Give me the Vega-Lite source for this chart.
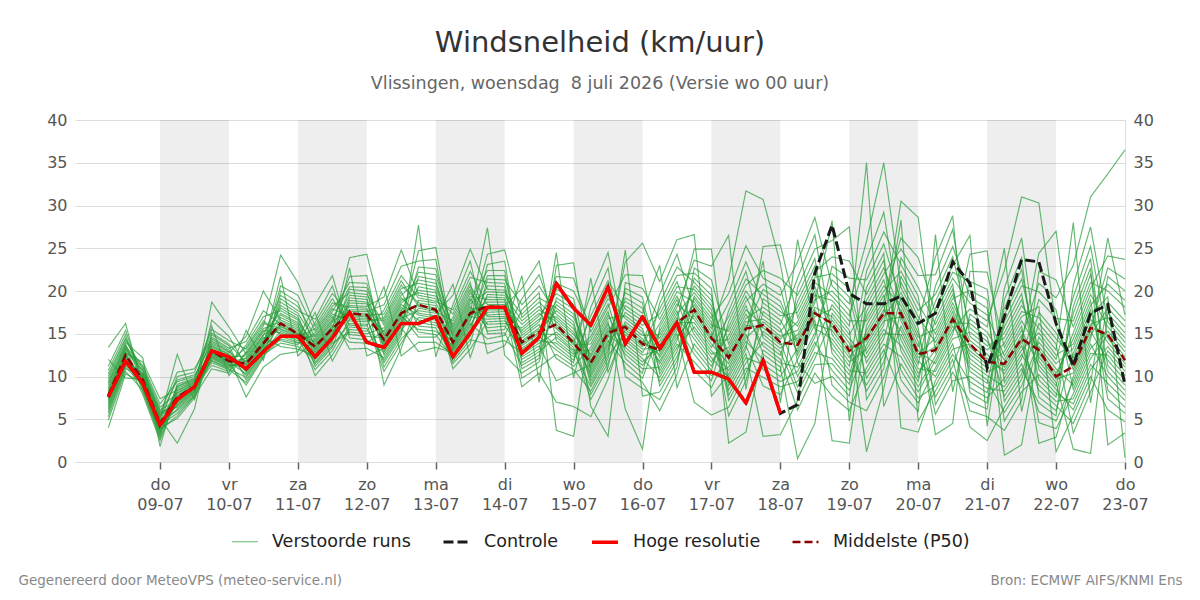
{
  "$schema": "https://vega.github.io/schema/vega-lite/v6.json",
  "width": 1050,
  "height": 342,
  "autosize": "none",
  "padding": {"left": 75, "top": 120, "right": 75, "bottom": 138},
  "background": "#ffffff",
  "config": {
    "font": "DejaVu Sans",
    "view": {"stroke": null},
    "axis": {"labelFont": "DejaVu Sans", "labelFontSize": 16, "labelColor": "#555555", "titleFont": "DejaVu Sans"},
    "legend": {"labelFont": "DejaVu Sans"}
  },
  "title": {
    "text": "Windsnelheid (km/uur)",
    "subtitle": "Vlissingen, woensdag\u00a0 8 juli 2026 (Versie wo 00 uur)",
    "anchor": "middle",
    "frame": "group",
    "font": "DejaVu Sans",
    "fontSize": 29,
    "fontWeight": "normal",
    "color": "#333333",
    "subtitleFont": "DejaVu Sans",
    "subtitleFontSize": 17.5,
    "subtitleColor": "#666666",
    "subtitlePadding": 17,
    "offset": 20
  },
  "datasets": {
    "dagen": [
      {"t": 24, "t2": 48}, {"t": 72, "t2": 96}, {"t": 120, "t2": 144}, {"t": 168, "t2": 192},
      {"t": 216, "t2": 240}, {"t": 264, "t2": 288}, {"t": 312, "t2": 336}
    ],
    "runs": [
      {"t": 6, "reeks": "Verstoorde runs", "v": [4.0,6.6,7.8,9.2,12.0,6.2,7.5,8.7,10.7,5.7,7.2,8.3,10.0,4.9,6.8,8.0,9.4,13.4,6.4,7.7,9.0,11.2,5.9,7.3,8.5,10.3,5.3,7.0,8.1,9.7]},
      {"t": 12, "reeks": "Verstoorde runs", "v": [10.3,11.7,12.6,13.6,9.8,11.4,12.4,13.3,14.9,11.1,12.1,13.0,14.3,10.6,11.9,12.7,13.8,16.2,11.6,12.5,13.5,15.4,11.3,12.3,13.2,14.5,10.9,12.0,12.9,14.0]},
      {"t": 18, "reeks": "Verstoorde runs", "v": [9.3,8.9,9.1,8.2,9.7,10.4,8.6,10.7,9.2,9.0,7.9,10.6,10.9,8.4,9.8,11.7,9.4,8.7,10.0,9.6,11.3,9.5,9.5,9.9,11.1,10.1,10.2,10.3,8.8,12.2]},
      {"t": 24, "reeks": "Verstoorde runs", "v": [4.2,3.7,3.9,2.8,4.7,5.6,3.2,5.9,4.1,3.8,2.5,5.7,6.1,3.0,4.8,7.4,4.3,3.4,5.0,4.6,6.8,4.4,4.5,4.9,6.4,5.1,5.3,5.4,3.5,1.8]},
      {"t": 30, "reeks": "Verstoorde runs", "v": [6.2,8.1,5.1,7.6,10.0,7.0,8.9,6.4,8.3,5.4,7.7,10.5,7.2,9.1,6.6,8.4,5.7,7.8,12.6,7.3,9.4,6.7,8.6,6.0,8.0,2.2,7.5,9.6,6.9,8.8]},
      {"t": 36, "reeks": "Verstoorde runs", "v": [8.1,9.2,7.5,8.9,10.5,8.6,9.7,8.2,9.3,7.7,8.9,10.9,8.7,9.8,8.3,9.4,7.8,9.0,7.3,8.7,10.0,8.4,9.5,7.9,9.1,6.2,8.8,10.2,8.5,9.6]},
      {"t": 42, "reeks": "Verstoorde runs", "v": [14.2,14.6,12.3,13.6,15.5,13.1,11.6,18.7,13.0,10.9,12.7,14.4,12.2,15.1,11.8,15.9,16.6,12.5,13.5,13.8,14.0,12.1,12.8,12.6,12.9,14.9,11.3,12.4,13.3,11.9]},
      {"t": 48, "reeks": "Verstoorde runs", "v": [12.9,13.3,11.3,12.5,14.2,12.0,10.8,15.8,11.9,10.4,11.7,13.1,11.2,13.8,10.9,10.1,14.7,11.5,12.3,12.6,12.8,11.1,11.7,11.6,11.8,13.6,10.6,11.4,12.2,11.0]},
      {"t": 54, "reeks": "Verstoorde runs", "v": [10.6,14.1,11.8,10.1,13.2,11.4,9.3,12.6,10.9,15.4,12.1,10.5,13.7,11.6,9.9,12.9,11.2,9.0,12.4,10.8,14.7,11.9,10.3,13.4,11.5,9.6,12.7,11.1,7.6,12.2]},
      {"t": 60, "reeks": "Verstoorde runs", "v": [13.3,17.7,14.4,12.9,16.2,13.9,12.4,15.4,13.6,11.9,14.8,13.2,17.0,14.2,12.8,15.9,13.8,12.2,15.2,13.5,20.0,14.6,13.1,16.5,14.0,12.6,15.6,13.7,11.1,14.9]},
      {"t": 66, "reeks": "Verstoorde runs", "v": [14.7,16.1,15.5,15.3,15.6,15.8,14.4,15.1,18.3,20.0,19.5,19.1,17.7,18.0,18.7,24.2,17.2,16.9,17.4,20.6,16.6,13.5,16.2,14.9,14.2,13.9,16.4,21.7,12.6,15.9]},
      {"t": 72, "reeks": "Verstoorde runs", "v": [14.0,15.1,14.6,14.5,14.8,14.9,13.9,14.4,17.1,18.7,18.2,17.7,16.6,16.8,17.4,21.0,16.1,15.9,16.3,19.5,15.7,13.2,15.3,14.2,13.7,13.5,15.5,12.4,12.9,15.0]},
      {"t": 78, "reeks": "Verstoorde runs", "v": [12.9,14.0,15.6,10.8,12.6,13.7,15.1,18.4,12.2,13.4,14.6,16.7,11.7,13.1,14.2,15.9,11.2,12.8,13.8,15.3,10.1,12.4,13.5,14.8,17.5,12.0,13.2,14.4,16.3,11.5]},
      {"t": 84, "reeks": "Verstoorde runs", "v": [15.1,16.5,18.6,13.0,14.8,16.0,17.9,21.8,14.3,15.6,17.3,20.6,13.9,15.3,16.7,19.1,13.4,14.9,16.3,18.2,12.5,14.6,15.8,17.6,11.8,14.1,15.5,17.0,19.7,13.6]},
      {"t": 90, "reeks": "Verstoorde runs", "v": [18.6,17.6,18.1,16.7,20.2,14.0,17.1,14.9,18.3,17.8,16.5,14.5,15.2,16.9,20.5,16.0,18.9,17.2,21.7,19.8,15.8,19.2,19.5,21.0,15.5,22.7,23.9,13.2,17.4,16.2]},
      {"t": 96, "reeks": "Verstoorde runs", "v": [18.5,17.6,18.0,16.6,20.0,13.9,17.0,14.7,18.2,17.8,16.4,14.3,15.0,16.8,20.4,15.9,18.7,17.2,21.8,19.6,15.6,19.0,19.3,20.9,15.3,12.4,24.3,13.3,17.4,16.1]},
      {"t": 102, "reeks": "Verstoorde runs", "v": [14.3,18.4,13.5,16.6,12.5,15.4,11.1,14.5,19.3,13.7,16.9,12.8,15.7,11.6,14.7,20.5,13.9,17.3,13.0,16.0,11.9,14.9,9.0,14.1,17.8,13.3,16.3,12.2,15.2,10.6]},
      {"t": 108, "reeks": "Verstoorde runs", "v": [17.6,22.9,16.8,20.3,15.7,18.9,14.4,17.8,24.8,17.0,20.7,16.0,19.2,14.8,18.1,12.4,17.2,21.2,16.3,19.5,15.1,18.4,13.3,17.4,21.8,16.5,19.9,15.4,18.6,13.9]},
      {"t": 114, "reeks": "Verstoorde runs", "v": [22.2,23.5,17.7,20.9,12.9,19.8,16.3,15.2,19.5,15.5,18.6,22.8,17.4,27.7,16.6,14.0,14.6,18.2,20.5,21.3,21.7,17.2,18.9,18.4,19.2,24.7,15.9,18.0,20.1,16.9]},
      {"t": 120, "reeks": "Verstoorde runs", "v": [21.9,23.7,17.4,20.5,13.4,19.4,16.0,14.9,19.1,15.3,18.3,22.6,17.1,12.3,16.3,14.0,14.6,17.8,20.1,20.9,21.3,16.8,18.6,18.0,18.8,25.1,15.7,17.6,19.8,16.6]},
      {"t": 126, "reeks": "Verstoorde runs", "v": [15.5,13.3,19.5,14.7,12.8,17.3,14.0,12.1,16.1,13.6,10.9,15.2,13.1,18.4,14.4,12.6,16.9,13.9,11.8,15.8,13.4,20.8,15.0,13.0,17.8,14.2,12.4,16.5,13.7,11.5]},
      {"t": 132, "reeks": "Verstoorde runs", "v": [19.4,16.5,24.9,18.5,15.7,21.6,17.6,14.7,20.2,17.0,13.2,19.1,16.2,23.5,18.2,15.4,21.0,17.4,14.3,19.8,16.7,12.2,18.8,16.0,22.3,17.9,15.0,20.6,17.2,13.8]},
      {"t": 138, "reeks": "Verstoorde runs", "v": [19.0,21.8,20.2,19.9,20.6,21.0,18.7,19.6,15.3,16.7,16.4,16.1,14.4,15.0,15.7,17.5,12.7,27.4,13.8,17.0,24.3,18.0,22.4,19.3,18.4,18.2,23.1,17.2,17.8,21.4]},
      {"t": 144, "reeks": "Verstoorde runs", "v": [19.0,21.8,20.1,19.8,20.5,20.9,18.7,19.5,15.5,16.8,16.5,16.2,14.8,15.1,15.9,17.6,13.6,12.5,14.2,17.0,24.8,18.0,22.4,19.2,18.4,18.2,23.5,17.3,17.8,21.3]},
      {"t": 150, "reeks": "Verstoorde runs", "v": [10.9,13.1,14.8,17.3,9.8,12.6,14.2,16.5,21.8,12.0,13.8,15.7,19.1,11.3,13.3,15.1,17.8,10.4,12.8,14.5,16.9,8.8,12.3,14.0,16.1,20.3,11.6,13.6,15.4,18.4]},
      {"t": 156, "reeks": "Verstoorde runs", "v": [12.1,14.4,16.4,19.2,11.1,13.9,15.7,18.2,9.3,13.2,15.2,17.4,21.9,12.5,14.7,16.7,19.8,11.7,14.2,16.1,18.7,10.4,13.6,15.5,17.8,23.5,12.9,15.0,17.1,20.6]},
      {"t": 162, "reeks": "Verstoorde runs", "v": [24.5,20.2,21.7,18.0,12.6,15.2,18.8,15.8,23.0,20.9,17.7,15.6,16.1,18.4,13.1,17.0,3.7,19.2,13.9,12.1,16.7,7.0,9.5,13.5,16.4,14.2,14.6,14.9,19.7,17.3]},
      {"t": 168, "reeks": "Verstoorde runs", "v": [9.8,19.1,21.5,16.4,11.2,13.4,17.3,13.9,23.3,20.0,16.0,13.7,14.2,16.9,11.6,15.2,3.0,17.9,12.3,10.8,14.9,6.5,10.4,11.9,14.5,12.6,12.9,13.1,18.4,15.6]},
      {"t": 174, "reeks": "Verstoorde runs", "v": [18.1,10.5,15.2,9.1,13.4,7.3,11.9,19.6,10.8,15.8,9.5,13.8,7.9,12.3,21.5,11.1,16.4,9.9,14.3,8.3,12.6,5.3,11.4,17.1,10.2,14.7,8.8,13.0,6.5,11.6]},
      {"t": 180, "reeks": "Verstoorde runs", "v": [22.7,14.2,19.1,12.9,17.2,11.1,15.7,24.5,14.6,19.6,13.2,17.6,11.6,16.1,10.5,14.8,20.3,13.6,18.1,12.1,16.4,9.7,15.1,21.2,13.9,18.5,12.5,16.8,3.0,15.4]},
      {"t": 186, "reeks": "Verstoorde runs", "v": [10.0,11.6,16.8,23.4,13.0,20.3,15.2,14.2,19.8,14.5,18.3,10.9,16.4,12.6,15.5,13.4,13.8,17.5,21.9,24.8,6.2,16.1,18.8,17.9,19.2,12.1,14.9,17.1,21.0,15.8]},
      {"t": 192, "reeks": "Verstoorde runs", "v": [8.6,9.8,15.2,25.6,11.3,19.3,13.5,12.5,18.6,12.8,16.9,9.3,14.8,10.9,13.8,11.7,12.1,16.0,21.8,7.7,1.5,14.4,17.4,16.5,18.0,10.4,13.2,15.6,20.3,14.1]},
      {"t": 198, "reeks": "Verstoorde runs", "v": [7.3,15.3,11.5,21.1,14.1,10.3,17.9,13.1,8.9,16.2,12.2,6.0,14.9,11.1,19.6,13.7,9.9,17.3,12.8,8.2,15.8,11.8,23.0,14.5,10.7,18.6,13.4,9.4,16.7,12.5]},
      {"t": 204, "reeks": "Verstoorde runs", "v": [11.1,19.0,15.0,26.0,17.7,13.8,21.8,16.6,12.3,19.9,15.7,10.2,18.5,14.6,24.3,17.3,13.4,21.1,16.3,11.8,19.4,15.3,8.7,18.1,14.2,22.8,16.9,12.9,20.5,16.0]},
      {"t": 210, "reeks": "Verstoorde runs", "v": [22.7,13.2,7.0,26.6,10.7,11.7,22.1,24.9,17.5,18.7,18.4,18.1,16.7,17.1,17.8,19.8,15.8,15.4,16.3,19.1,14.9,20.6,13.8,23.6,21.5,21.0,14.4,19.4,20.2,12.6]},
      {"t": 216, "reeks": "Verstoorde runs", "v": [21.3,10.7,5.5,7.7,8.7,9.5,20.3,24.9,14.5,16.0,15.6,15.2,13.8,14.2,14.8,17.3,13.0,12.6,13.4,16.4,12.2,18.3,11.2,22.9,19.5,18.9,11.7,16.8,17.8,10.1]},
      {"t": 222, "reeks": "Verstoorde runs", "v": [13.8,17.7,6.4,10.3,13.0,16.4,2.2,9.4,12.2,15.3,21.4,8.4,11.5,14.3,18.6,7.2,10.7,13.4,17.0,5.4,9.9,12.6,15.8,26.5,8.9,11.9,14.8,19.7,7.8,11.1]},
      {"t": 228, "reeks": "Verstoorde runs", "v": [17.8,22.3,10.4,14.1,16.8,20.7,3.5,13.2,16.0,19.4,31.7,12.2,15.3,18.3,23.4,11.0,14.5,17.3,21.4,9.5,13.6,16.4,20.0,8.5,12.7,15.6,18.8,25.3,11.6,14.9]},
      {"t": 234, "reeks": "Verstoorde runs", "v": [16.0,14.5,15.3,12.0,18.1,22.4,13.1,25.2,15.7,14.9,30.7,11.4,23.5,12.6,18.6,9.9,16.4,13.6,19.6,17.6,8.9,16.7,17.2,19.1,3.0,20.2,20.8,21.5,14.0,10.8]},
      {"t": 240, "reeks": "Verstoorde runs", "v": [14.4,12.9,13.7,10.6,16.6,21.5,11.6,25.4,14.0,13.3,23.2,10.0,6.9,11.1,17.1,8.8,14.7,12.0,18.2,16.1,7.9,15.2,15.6,17.6,3.2,18.8,19.5,20.4,12.5,9.4]},
      {"t": 246, "reeks": "Verstoorde runs", "v": [16.4,8.1,14.5,26.0,12.9,19.5,11.1,16.9,8.8,14.9,11.6,13.3,20.4,0.4,17.5,9.4,15.4,6.1,13.7,21.5,12.0,18.1,10.0,15.9,7.2,14.1,23.4,12.5,18.8,10.6]},
      {"t": 252, "reeks": "Verstoorde runs", "v": [20.5,12.1,18.6,15.6,17.0,23.8,15.1,21.0,12.8,19.0,9.2,17.4,24.9,4.5,21.6,13.5,19.5,10.4,17.8,26.6,16.1,22.2,14.0,20.0,11.4,18.1,28.6,16.6,22.9,14.6]},
      {"t": 258, "reeks": "Verstoorde runs", "v": [15.8,16.6,28.2,14.4,17.9,12.7,21.3,19.4,12.1,20.0,10.0,16.2,25.9,17.4,22.0,18.4,18.9,7.7,13.9,14.9,15.4,24.0,10.7,9.0,11.5,17.0,20.6,2.5,13.3,22.9]},
      {"t": 264, "reeks": "Verstoorde runs", "v": [13.0,13.9,4.8,11.7,15.4,10.2,19.3,17.1,9.6,17.8,7.7,13.4,27.5,14.9,20.3,15.9,16.5,6.0,11.2,12.2,12.6,23.5,8.4,7.0,9.1,14.4,18.5,2.2,10.7,21.5]},
      {"t": 270, "reeks": "Verstoorde runs", "v": [14.5,8.3,18.9,13.2,1.2,17.0,11.6,23.7,15.4,9.8,20.4,14.1,7.3,18.3,12.7,35.0,16.5,11.0,22.3,14.9,9.0,19.6,13.7,6.0,17.6,12.2,25.8,16.0,10.4,21.3]},
      {"t": 276, "reeks": "Verstoorde runs", "v": [17.8,11.7,22.7,16.5,8.6,20.6,15.0,29.2,18.9,13.1,24.4,17.4,10.9,22.0,16.0,6.5,20.0,14.4,26.9,18.4,12.5,23.6,17.0,9.9,21.3,15.5,35.0,19.5,13.8,25.5]},
      {"t": 282, "reeks": "Verstoorde runs", "v": [15.4,19.3,17.4,17.0,17.8,18.3,14.9,16.5,26.2,8.2,4.0,30.5,23.9,24.9,28.3,11.5,22.3,21.7,23.1,9.6,21.0,13.0,19.8,15.9,14.3,13.6,20.4,10.7,12.3,18.8]},
      {"t": 288, "reeks": "Verstoorde runs", "v": [11.4,15.1,13.0,12.6,13.5,14.1,10.9,12.2,23.9,5.9,3.5,28.6,20.4,21.8,4.8,8.2,18.5,17.7,19.4,6.9,17.0,9.4,15.7,11.8,10.4,9.9,16.4,7.5,8.8,14.6]},
      {"t": 294, "reeks": "Verstoorde runs", "v": [20.6,7.6,11.5,14.5,18.8,5.6,10.6,13.5,17.4,26.6,9.5,12.8,16.1,21.9,8.3,11.9,15.0,19.6,6.7,11.0,14.0,18.0,3.2,10.0,13.1,16.7,24.0,8.9,12.4,15.5]},
      {"t": 300, "reeks": "Verstoorde runs", "v": [25.2,11.2,15.4,18.6,23.0,9.5,14.4,17.6,21.5,8.2,13.2,16.7,20.2,27.2,12.0,15.9,19.1,24.0,10.5,14.9,18.1,22.2,4.5,13.8,17.1,20.8,28.8,12.6,16.3,19.6]},
      {"t": 306, "reeks": "Verstoorde runs", "v": [19.3,16.7,17.9,14.2,26.5,10.0,15.2,11.1,18.6,17.3,13.8,10.6,11.6,14.7,4.1,13.0,20.1,15.7,7.1,24.3,12.6,21.1,22.3,6.0,12.1,8.1,8.7,9.4,16.2,13.4]},
      {"t": 312, "reeks": "Verstoorde runs", "v": [18.0,15.2,16.5,12.6,4.2,8.6,13.6,9.6,17.2,15.8,12.1,9.2,10.1,13.1,2.5,11.4,19.0,14.1,6.2,24.7,11.0,20.2,22.2,5.3,10.5,6.9,7.5,8.1,14.6,11.7]},
      {"t": 318, "reeks": "Verstoorde runs", "v": [4.8,11.9,22.4,10.3,17.2,8.3,14.5,5.8,12.4,25.0,10.7,18.0,8.8,15.1,6.4,12.9,0.8,11.1,19.0,9.3,15.8,7.1,13.4,3.7,11.5,20.3,9.8,16.4,7.7,13.9]},
      {"t": 324, "reeks": "Verstoorde runs", "v": [8.2,15.4,31.0,13.6,21.4,11.5,18.3,8.9,15.9,5.9,14.0,22.5,12.1,19.0,9.7,16.5,2.0,14.4,23.9,12.6,19.7,10.3,17.0,7.2,14.8,26.2,13.1,20.6,10.9,17.6]},
      {"t": 330, "reeks": "Verstoorde runs", "v": [10.2,11.3,30.3,8.4,12.7,5.9,15.6,14.0,4.6,14.6,24.4,10.8,19.0,12.3,16.2,13.1,13.5,20.9,7.6,9.0,9.6,17.5,18.2,22.3,2.2,11.8,15.1,19.9,6.9,16.9]},
      {"t": 336, "reeks": "Verstoorde runs", "v": [8.0,8.9,15.9,6.6,10.0,4.8,13.1,11.5,3.9,12.0,27.0,8.5,16.8,9.7,13.8,10.4,10.9,19.2,6.0,7.1,7.6,15.1,1.2,21.3,2.9,9.3,12.5,17.8,5.4,14.4]},
      {"t": 342, "reeks": "Verstoorde runs", "v": [6.8,17.4,10.8,4.5,15.1,9.5,28.0,13.3,8.0,19.3,11.6,6.1,16.5,10.4,3.4,14.4,9.0,23.0,12.7,7.4,18.2,11.2,5.5,15.8,10.0,1.5,13.8,8.5,20.7,12.2]},
      {"t": 348, "reeks": "Verstoorde runs", "v": [11.4,22.7,15.7,9.2,20.3,14.3,6.9,18.3,12.7,25.2,16.7,10.8,21.9,15.3,8.2,19.6,13.8,31.0,17.8,12.1,23.8,16.1,10.0,21.0,14.8,1.0,18.9,13.3,27.5,17.2]},
      {"t": 354, "reeks": "Verstoorde runs", "v": [9.2,2.0,22.7,21.7,24.1,26.2,18.7,20.8,12.5,14.5,14.0,13.5,11.3,11.9,13.0,15.8,10.0,33.7,10.6,14.9,8.4,16.9,6.1,20.0,18.0,17.4,7.4,15.3,16.4,19.3]},
      {"t": 360, "reeks": "Verstoorde runs", "v": [7.2,3.4,21.4,20.0,23.7,17.2,16.5,18.9,10.1,11.9,11.5,11.1,9.0,9.6,10.6,13.4,7.8,36.5,8.4,12.3,6.4,14.5,4.7,18.1,15.8,15.1,5.7,12.9,14.0,0.5]}
    ],
    "lijnen": [
      {"t": 6, "Controle": 7.6, "Hoge resolutie": 7.6, "Middelste (P50)": 7.8},
      {"t": 12, "Controle": 11.8, "Hoge resolutie": 11.8, "Middelste (P50)": 12.5},
      {"t": 18, "Controle": 9.2, "Hoge resolutie": 9.2, "Middelste (P50)": 9.6},
      {"t": 24, "Controle": 4.3, "Hoge resolutie": 4.3, "Middelste (P50)": 4.5},
      {"t": 30, "Controle": 7.3, "Hoge resolutie": 7.3, "Middelste (P50)": 7.6},
      {"t": 36, "Controle": 8.8, "Hoge resolutie": 8.8, "Middelste (P50)": 8.8},
      {"t": 42, "Controle": 13.0, "Hoge resolutie": 13.0, "Middelste (P50)": 13.0},
      {"t": 48, "Controle": 12.3, "Hoge resolutie": 12.3, "Middelste (P50)": 11.8},
      {"t": 54, "Controle": 10.9, "Hoge resolutie": 10.9, "Middelste (P50)": 11.5},
      {"t": 60, "Controle": 12.9, "Hoge resolutie": 12.9, "Middelste (P50)": 13.9},
      {"t": 66, "Controle": 14.7, "Hoge resolutie": 14.7, "Middelste (P50)": 16.2},
      {"t": 72, "Controle": 14.7, "Hoge resolutie": 14.7, "Middelste (P50)": 15.0},
      {"t": 78, "Controle": 12.3, "Hoge resolutie": 12.3, "Middelste (P50)": 13.5},
      {"t": 84, "Controle": 14.5, "Hoge resolutie": 14.5, "Middelste (P50)": 15.6},
      {"t": 90, "Controle": 17.5, "Hoge resolutie": 17.5, "Middelste (P50)": 17.4},
      {"t": 96, "Controle": 14.0, "Hoge resolutie": 14.0, "Middelste (P50)": 17.2},
      {"t": 102, "Controle": 13.4, "Hoge resolutie": 13.4, "Middelste (P50)": 14.3},
      {"t": 108, "Controle": 16.2, "Hoge resolutie": 16.2, "Middelste (P50)": 17.4},
      {"t": 114, "Controle": 16.2, "Hoge resolutie": 16.2, "Middelste (P50)": 18.4},
      {"t": 120, "Controle": 17.0, "Hoge resolutie": 17.0, "Middelste (P50)": 17.8},
      {"t": 126, "Controle": 12.3, "Hoge resolutie": 12.3, "Middelste (P50)": 14.0},
      {"t": 132, "Controle": 15.1, "Hoge resolutie": 15.1, "Middelste (P50)": 17.4},
      {"t": 138, "Controle": 18.1, "Hoge resolutie": 18.1, "Middelste (P50)": 18.2},
      {"t": 144, "Controle": 18.1, "Hoge resolutie": 18.1, "Middelste (P50)": 18.0},
      {"t": 150, "Controle": 12.7, "Hoge resolutie": 12.7, "Middelste (P50)": 14.0},
      {"t": 156, "Controle": 14.6, "Hoge resolutie": 14.6, "Middelste (P50)": 15.2},
      {"t": 162, "Controle": 20.9, "Hoge resolutie": 20.9, "Middelste (P50)": 16.1},
      {"t": 168, "Controle": 18.0, "Hoge resolutie": 18.0, "Middelste (P50)": 13.9},
      {"t": 174, "Controle": 16.0, "Hoge resolutie": 16.0, "Middelste (P50)": 11.6},
      {"t": 180, "Controle": 20.5, "Hoge resolutie": 20.5, "Middelste (P50)": 15.1},
      {"t": 186, "Controle": 13.8, "Hoge resolutie": 13.8, "Middelste (P50)": 15.8},
      {"t": 192, "Controle": 17.0, "Hoge resolutie": 17.0, "Middelste (P50)": 13.8},
      {"t": 198, "Controle": 13.3, "Hoge resolutie": 13.3, "Middelste (P50)": 13.1},
      {"t": 204, "Controle": 16.3, "Hoge resolutie": 16.3, "Middelste (P50)": 16.3},
      {"t": 210, "Controle": 10.5, "Hoge resolutie": 10.5, "Middelste (P50)": 17.8},
      {"t": 216, "Controle": 10.5, "Hoge resolutie": 10.5, "Middelste (P50)": 14.5},
      {"t": 222, "Controle": 9.7, "Hoge resolutie": 9.7, "Middelste (P50)": 12.2},
      {"t": 228, "Controle": 6.9, "Hoge resolutie": 6.9, "Middelste (P50)": 15.6},
      {"t": 234, "Controle": 11.9, "Hoge resolutie": 11.9, "Middelste (P50)": 16.0},
      {"t": 240, "Controle": 5.7, "Hoge resolutie": 5.7, "Middelste (P50)": 14.0},
      {"t": 246, "Controle": 6.7, "Middelste (P50)": 13.7},
      {"t": 252, "Controle": 22.1, "Middelste (P50)": 17.4},
      {"t": 258, "Controle": 27.7, "Middelste (P50)": 16.2},
      {"t": 264, "Controle": 19.7, "Middelste (P50)": 13.0},
      {"t": 270, "Controle": 18.5, "Middelste (P50)": 14.5},
      {"t": 276, "Controle": 18.5, "Middelste (P50)": 17.4},
      {"t": 282, "Controle": 19.4, "Middelste (P50)": 17.4},
      {"t": 288, "Controle": 16.2, "Middelste (P50)": 12.6},
      {"t": 294, "Controle": 17.4, "Middelste (P50)": 13.1},
      {"t": 300, "Controle": 23.4, "Middelste (P50)": 16.7},
      {"t": 306, "Controle": 20.9, "Middelste (P50)": 13.8},
      {"t": 312, "Controle": 11.0, "Middelste (P50)": 11.7},
      {"t": 318, "Controle": 17.0, "Middelste (P50)": 11.5},
      {"t": 324, "Controle": 23.7, "Middelste (P50)": 14.4},
      {"t": 330, "Controle": 23.4, "Middelste (P50)": 13.1},
      {"t": 336, "Controle": 16.2, "Middelste (P50)": 10.0},
      {"t": 342, "Controle": 11.3, "Middelste (P50)": 11.2},
      {"t": 348, "Controle": 17.4, "Middelste (P50)": 15.7},
      {"t": 354, "Controle": 18.4, "Middelste (P50)": 14.9},
      {"t": 360, "Controle": 9.0, "Middelste (P50)": 11.9}
    ]
  },
  "encoding": {
    "x": {
      "field": "t",
      "type": "quantitative",
      "scale": {"domain": [-5.6, 360], "nice": false, "zero": false},
      "axis": {
        "values": [24, 48, 72, 96, 120, 144, 168, 192, 216, 240, 264, 288, 312, 336, 360],
        "title": null,
        "grid": false,
        "domain": false,
        "ticks": true,
        "tickColor": "#666666",
        "tickSize": 7,
        "tickWidth": 1.5,
        "labelPadding": 7,
        "labelLineHeight": 20,
        "labelFlush": false,
        "labelOverlap": false,
        "labelBaseline": "top",
        "labelExpr": "[['zo','ma','di','wo','do','vr','za'][(datum.value / 24 + 3) % 7], (datum.value / 24 + 8 < 10 ? '0' : '') + (datum.value / 24 + 8) + '-07']"
      }
    }
  },
  "layer": [
    {
      "data": {"name": "dagen"},
      "mark": {"type": "rect", "color": "#000000", "opacity": 0.067},
      "encoding": {"x2": {"field": "t2"}}
    },
    {
      "data": {"name": "runs"},
      "transform": [
        {"flatten": ["v"]},
        {"window": [{"op": "row_number", "as": "lid"}], "groupby": ["t"]}
      ],
      "mark": {"type": "line", "strokeCap": "butt"},
      "encoding": {
        "y": {
          "field": "v",
          "type": "quantitative",
          "scale": {"domain": [0, 40], "nice": false},
          "axis": {
            "orient": "left",
            "values": [0, 5, 10, 15, 20, 25, 30, 35, 40],
            "grid": true,
            "gridColor": "#dddddd",
            "gridWidth": 1,
            "domain": false,
            "ticks": false,
            "labelPadding": 8,
            "title": "Gegenereerd door MeteoVPS (meteo-service.nl)",
            "titleAngle": 0,
            "titleAlign": "left",
            "titleBaseline": "alphabetic",
            "titleX": -57,
            "titleY": 464,
            "titleFontSize": 13.5,
            "titleFontWeight": "normal",
            "titleColor": "#888888"
          }
        },
        "detail": {"field": "lid", "type": "nominal"},
        "color": {
          "field": "reeks",
          "type": "nominal",
          "scale": {"domain": ["Verstoorde runs", "Controle", "Hoge resolutie", "Middelste (P50)"], "range": ["#2a9d3a", "#1a1a1a", "#ff0000", "#8b0000"]},
          "legend": {
            "title": null,
            "orient": "none",
            "legendX": 156,
            "legendY": 407,
            "direction": "horizontal",
            "symbolType": "stroke",
            "symbolSize": 676,
            "labelFontSize": 17.5,
            "labelColor": "#222222",
            "labelOffset": 13,
            "columnPadding": 26,
            "padding": 0
          }
        },
        "strokeDash": {
          "field": "reeks",
          "type": "nominal",
          "scale": {"domain": ["Verstoorde runs", "Controle", "Hoge resolutie", "Middelste (P50)"], "range": [[1, 0], [10, 4], [1, 0], [8, 4]]},
          "legend": {"title": null}
        },
        "strokeWidth": {
          "field": "reeks",
          "type": "nominal",
          "scale": {"type": "ordinal", "domain": ["Verstoorde runs", "Controle", "Hoge resolutie", "Middelste (P50)"], "range": [1.15, 3, 3.5, 2.5]},
          "legend": {"title": null}
        },
        "opacity": {
          "field": "reeks",
          "type": "nominal",
          "scale": {"type": "ordinal", "domain": ["Verstoorde runs", "Controle", "Hoge resolutie", "Middelste (P50)"], "range": [0.72, 1, 1, 1]},
          "legend": {"title": null}
        }
      }
    },
    {
      "data": {"name": "lijnen"},
      "transform": [
        {"fold": ["Middelste (P50)", "Controle", "Hoge resolutie"], "as": ["reeks", "v"]},
        {"filter": "isValid(datum.v)"}
      ],
      "encoding": {
        "y": {
          "field": "v",
          "type": "quantitative",
          "axis": {
            "orient": "right",
            "values": [0, 5, 10, 15, 20, 25, 30, 35, 40],
            "grid": false,
            "domain": true,
            "domainColor": "#dddddd",
            "domainWidth": 1,
            "ticks": false,
            "labelPadding": 8,
            "title": "Bron: ECMWF AIFS/KNMI Ens",
            "titleAngle": 0,
            "titleAlign": "right",
            "titleBaseline": "alphabetic",
            "titleX": 57,
            "titleY": 464,
            "titleFontSize": 13.5,
            "titleFontWeight": "normal",
            "titleColor": "#888888"
          }
        },
        "color": {
          "field": "reeks",
          "type": "nominal",
          "scale": {"domain": ["Verstoorde runs", "Controle", "Hoge resolutie", "Middelste (P50)"], "range": ["#2a9d3a", "#1a1a1a", "#ff0000", "#8b0000"]}
        },
        "strokeDash": {
          "field": "reeks",
          "type": "nominal",
          "scale": {"domain": ["Verstoorde runs", "Controle", "Hoge resolutie", "Middelste (P50)"], "range": [[1, 0], [10, 4], [1, 0], [8, 4]]}
        },
        "strokeWidth": {
          "field": "reeks",
          "type": "nominal",
          "scale": {"type": "ordinal", "domain": ["Verstoorde runs", "Controle", "Hoge resolutie", "Middelste (P50)"], "range": [1.15, 3, 3.5, 2.5]}
        },
        "opacity": {
          "field": "reeks",
          "type": "nominal",
          "scale": {"type": "ordinal", "domain": ["Verstoorde runs", "Controle", "Hoge resolutie", "Middelste (P50)"], "range": [0.72, 1, 1, 1]}
        }
      },
      "layer": [
        {"transform": [{"filter": "datum.reeks === 'Middelste (P50)'"}], "mark": {"type": "line", "strokeCap": "butt"}},
        {"transform": [{"filter": "datum.reeks === 'Controle'"}], "mark": {"type": "line", "strokeCap": "butt"}},
        {"transform": [{"filter": "datum.reeks === 'Hoge resolutie'"}], "mark": {"type": "line", "strokeCap": "butt", "strokeJoin": "round"}}
      ]
    }
  ],
  "resolve": {"axis": {"y": "independent"}}
}
